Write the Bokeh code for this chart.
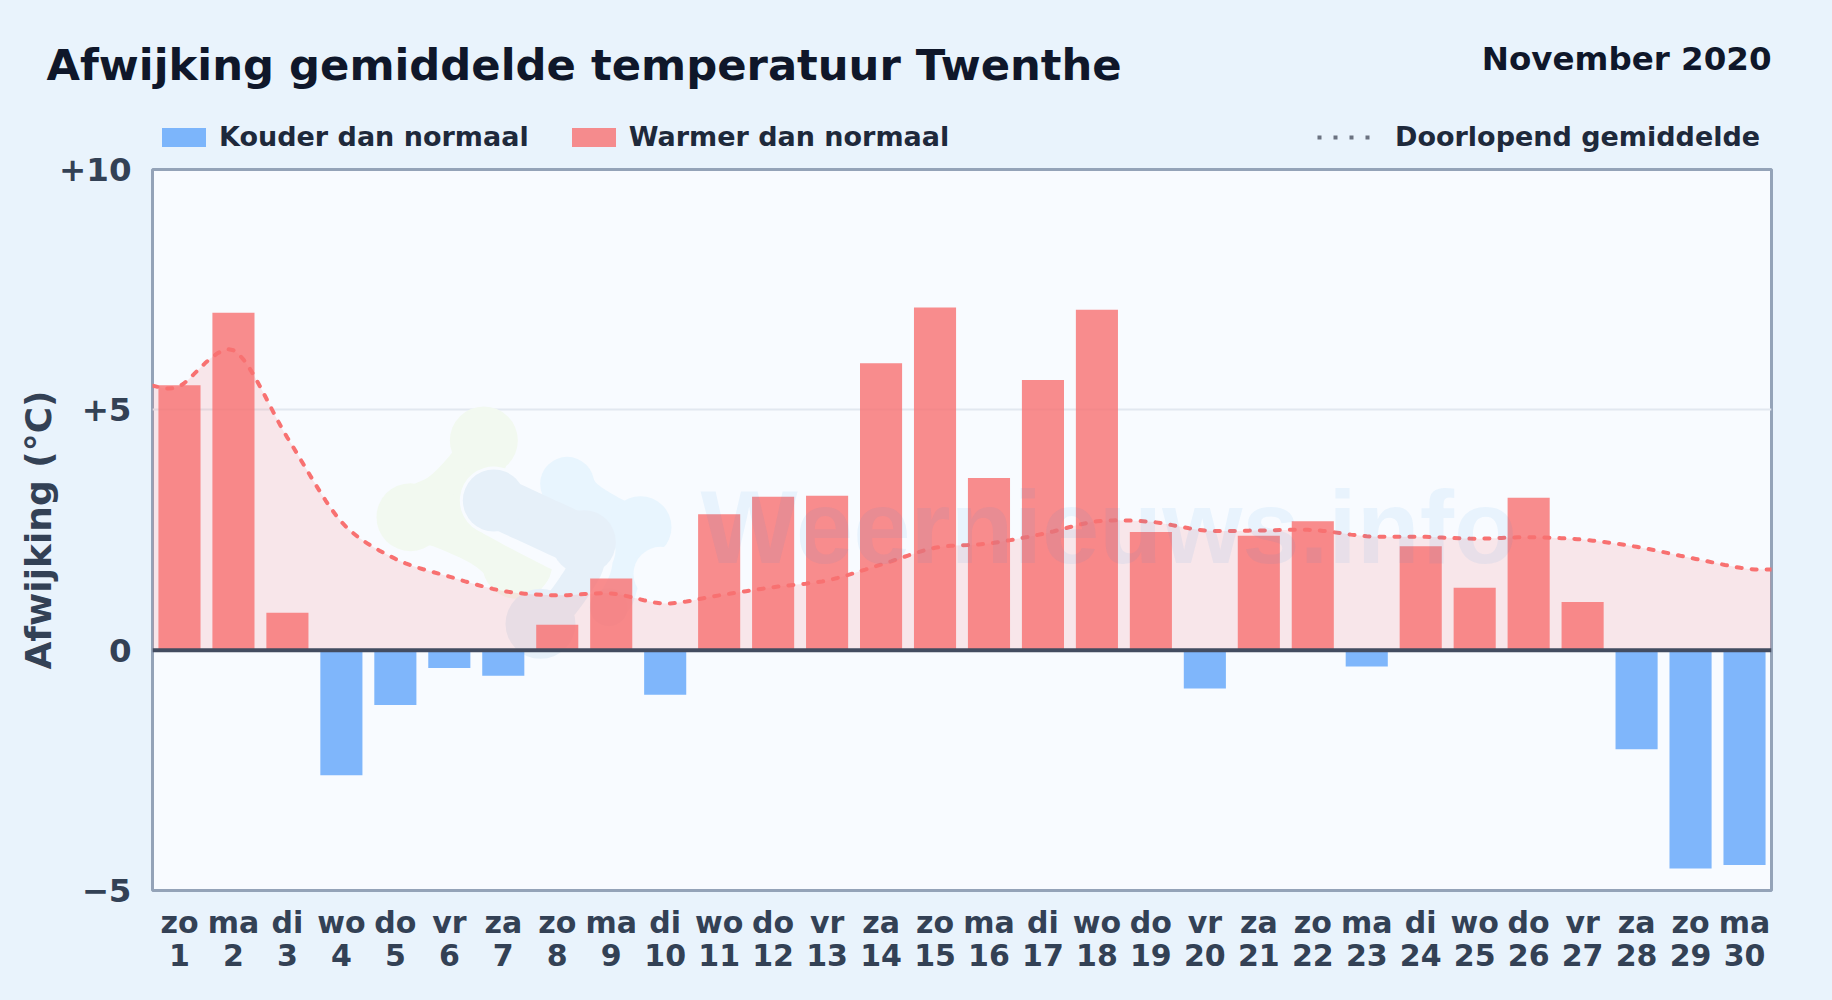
from bokeh.plotting import figure
from bokeh.layouts import column
from bokeh.models import (ColumnDataSource, FixedTicker, Label, Legend, LegendItem,
                          LinearAxis, Range1d, Span)
from bokeh.embed import file_html
from bokeh.resources import INLINE

# ---- data ----
weekdays = ["zo","ma","di","wo","do","vr","za","zo","ma","di","wo","do","vr","za","zo",
            "ma","di","wo","do","vr","za","zo","ma","di","wo","do","vr","za","zo","ma"]
days = list(range(1, 31))
anomaly = [5.51, 7.02, 0.78, -2.60, -1.14, -0.37, -0.53, 0.53, 1.49, -0.93,
           2.83, 3.19, 3.21, 5.97, 7.13, 3.58, 5.62, 7.08, 2.46, -0.80,
           2.38, 2.68, -0.34, 2.16, 1.30, 3.17, 1.00, -2.06, -4.54, -4.47]
running_mean = [5.49, 6.24, 4.42, 2.67, 1.90, 1.53, 1.23, 1.14, 1.18, 0.97,
                1.14, 1.31, 1.45, 1.78, 2.13, 2.22, 2.42, 2.68, 2.67, 2.49,
                2.49, 2.50, 2.37, 2.36, 2.32, 2.35, 2.30, 2.15, 1.92, 1.70]
mean_at_left_edge = 5.50
mean_at_right_edge = 1.68
y_ticks = [-5, 0, 5, 10]
y_tick_labels = ["\u22125", "0", "+5", "+10"]
title_text = "Afwijking gemiddelde temperatuur Twenthe"
period_text = "November 2020"
y_label = "Afwijking (\u00b0C)"
watermark_text = "Weernieuws.info"

FONT = "DejaVu Sans"
PAGE_BG = "#e9f3fc"
PLOT_BG = "#f8fbff"
RED = "#f87171"
BLUE = "#60a5fa"

PAGE_W = 1832
HEADER_H, MAIN_H, OVERLAP = 153, 857, 10

# ---- header strip: title, period, legends ----
h = figure(width=PAGE_W, height=HEADER_H, output_backend="svg", toolbar_location=None,
           x_range=Range1d(0, PAGE_W), y_range=Range1d(HEADER_H, 0),
           x_axis_location=None, y_axis_location=None, frame_align=False,
           min_border=0, background_fill_color=PAGE_BG, border_fill_color=PAGE_BG,
           outline_line_color=None)
h.grid.visible = False
h.add_layout(Label(x=46, y=64, text=title_text, text_font=FONT, text_font_size="43.3px",
                   text_font_style="bold", text_color="#0f172a", text_baseline="alphabetic"))
h.add_layout(Label(x=1771, y=58, text=period_text, text_font=FONT, text_font_size="32.5px",
                   text_font_style="bold", text_color="#0f172a", text_align="right",
                   text_baseline="alphabetic"))
# legend keys: their single sample lies outside the header's visible range
off_x, off_y = [-1000.0], [-1000.0]
key_src = ColumnDataSource(dict(x=off_x, top=off_y))
cold_key = h.vbar(x="x", top="top", bottom=0, width=1, source=key_src,
                  fill_color=BLUE, fill_alpha=0.8, line_color=None)
warm_key = h.vbar(x="x", top="top", bottom=0, width=1, source=key_src,
                  fill_color=RED, fill_alpha=0.8, line_color=None)
line_key = h.line(off_x * 2, off_y * 2, line_color="#6b7280", line_width=4, line_dash="4 12")
common = dict(orientation="horizontal", border_line_color=None, background_fill_alpha=0,
              margin=0, padding=0, label_text_font=FONT, label_text_font_size="27px",
              label_text_font_style="bold", label_text_color="#1e293b")
h.add_layout(Legend(items=[LegendItem(label="Kouder dan normaal", renderers=[cold_key]),
                           LegendItem(label="Warmer dan normaal", renderers=[warm_key])],
                    location=(156, 1), glyph_width=55, glyph_height=24,
                    label_standoff=8, spacing=37, **common), "center")
h.add_layout(Legend(items=[LegendItem(label="Doorlopend gemiddelde", renderers=[line_key])],
                    location=(1317, 1), glyph_width=56, glyph_height=24,
                    label_standoff=22, **common), "center")

# ---- main chart (its transparent top border overlaps the header's lower edge) ----
p = figure(width=PAGE_W, height=MAIN_H, output_backend="svg", toolbar_location=None,
           x_range=Range1d(0.5, 30.5), y_range=Range1d(-5, 10), frame_align=False,
           min_border_left=152, min_border_right=61, min_border_top=16 + OVERLAP,
           min_border_bottom=110, margin=(-OVERLAP, 0, 0, 0),
           background_fill_color=PLOT_BG, border_fill_color=None,
           outline_line_color="#94a3b8", outline_line_width=3)

p.xaxis.ticker = FixedTicker(ticks=days)
p.xaxis.major_label_overrides = {d: w for d, w in zip(days, weekdays)}
p.add_layout(LinearAxis(ticker=FixedTicker(ticks=days),
                        major_label_overrides={d: str(d) for d in days}), "below")
p.yaxis.ticker = FixedTicker(ticks=y_ticks)
p.yaxis.major_label_overrides = dict(zip(y_ticks, y_tick_labels))
for ax in list(p.xaxis) + list(p.yaxis):
    ax.axis_line_color = None
    ax.major_tick_line_color = None
    ax.minor_tick_line_color = None
    ax.major_label_text_font = FONT
    ax.major_label_text_font_style = "bold"
    ax.major_label_text_color = "#334155"
for ax in p.xaxis:
    ax.major_label_text_font_size = "30px"
    ax.major_label_orientation = "horizontal"
p.below[0].major_label_standoff = 8
p.below[1].major_label_standoff = -5
p.yaxis.major_label_text_font_size = "32.5px"
p.yaxis.major_label_standoff = 15
p.yaxis.axis_label = y_label
p.yaxis.axis_label_text_font = FONT
p.yaxis.axis_label_text_font_size = "36px"
p.yaxis.axis_label_text_font_style = "bold"
p.yaxis.axis_label_text_color = "#334155"
p.yaxis.axis_label_standoff = -3

p.xgrid.visible = False
p.ygrid.ticker = FixedTicker(ticks=[5])
p.ygrid.grid_line_color = "#e2e8f0"
p.ygrid.grid_line_width = 2

# faint watermark logo (page pixels converted to the chart's scale)
frame_l, frame_r, frame_t, frame_b = 152.0, 1771.0, 169.0, 890.0
def dx(px):
    return 0.5 + (px - frame_l) / (frame_r - frame_l) * 30
def dy(py):
    return 10 - (py - frame_t) / (frame_b - frame_t) * 15
def zx(a):
    return dx(360 + a / 3)
def zy(b):
    return dy(390 + b / 3)

def smooth(xs, ys, tension=0.3, steps=10):
    out_x, out_y = [], []
    n = len(xs)
    for i in range(n - 1):
        x0, y0 = xs[max(i - 1, 0)], ys[max(i - 1, 0)]
        x1, y1 = xs[i], ys[i]
        x2, y2 = xs[i + 1], ys[i + 1]
        x3, y3 = xs[min(i + 2, n - 1)], ys[min(i + 2, n - 1)]
        c1x, c1y = x1 + (x2 - x0) * tension / 2, y1 + (y2 - y0) * tension / 2
        c2x, c2y = x2 - (x3 - x1) * tension / 2, y2 - (y3 - y1) * tension / 2
        for k in range(steps):
            t = k / steps
            u = 1 - t
            out_x.append(u**3 * x1 + 3 * u * u * t * c1x + 3 * u * t * t * c2x + t**3 * x2)
            out_y.append(u**3 * y1 + 3 * u * u * t * c1y + 3 * u * t * t * c2y + t**3 * y2)
    out_x.append(xs[-1]); out_y.append(ys[-1])
    return out_x, out_y

def stroke(color, w, pts):
    xs, ys = smooth([a for a, b in pts], [b for a, b in pts], tension=0.8)
    p.line([zx(a) for a in xs], [zy(b) for b in ys], line_color=color, line_width=w,
           line_cap="round", line_join="round")
def lobe(color, a, b, d):
    p.scatter([zx(a)], [zy(b)], size=d, marker="circle", fill_color=color, line_color=None)

GREEN, MID, LIGHT = "#f2f9f0", "#e6f0f9", "#e8f5fe"
stroke(GREEN, 54, [(370, 150), (310, 270), (170, 370)])
stroke(GREEN, 56, [(150, 380), (300, 410), (470, 520)])
lobe(GREEN, 370, 150, 68); lobe(GREEN, 150, 380, 68); lobe(GREEN, 470, 520, 70)
stroke(PLOT_BG, 68, [(400, 330), (530, 400), (650, 460)])
stroke(LIGHT, 46, [(620, 280), (720, 370), (840, 410)])
stroke(LIGHT, 40, [(850, 410), (800, 510), (760, 620)])
lobe(LIGHT, 620, 280, 54); lobe(LIGHT, 840, 410, 62)
lobe(PLOT_BG, 900, 550, 54)
stroke(PLOT_BG, 50, [(690, 480), (640, 590), (540, 700)])
stroke(MID, 52, [(400, 330), (530, 390), (660, 450)])
stroke(MID, 34, [(690, 480), (640, 590), (540, 700)])
lobe(MID, 400, 330, 62); lobe(MID, 670, 455, 64); lobe(MID, 540, 700, 70); lobe(MID, 745, 650, 38)

p.add_layout(Label(x=dx(700), y=dy(527), text=watermark_text, text_font="Liberation Sans",
                   text_font_size="103px", text_font_style="bold", text_color="#1d8fe0",
                   text_alpha=0.07, text_baseline="alphabetic", level="glyph"))

# smoothed running mean, computed from the values above
cx, cy = smooth([0.5] + days + [30.5], [mean_at_left_edge] + running_mean + [mean_at_right_edge])
p.varea(x=cx, y1=[0] * len(cx), y2=cy, fill_color=RED, fill_alpha=0.15)

cold_src = ColumnDataSource(dict(x=[d for d, v in zip(days, anomaly) if v < 0],
                                 top=[v for v in anomaly if v < 0]))
warm_src = ColumnDataSource(dict(x=[d for d, v in zip(days, anomaly) if v >= 0],
                                 top=[v for v in anomaly if v >= 0]))
p.vbar(x="x", top="top", bottom=0, width=0.78, source=cold_src,
       fill_color=BLUE, fill_alpha=0.8, line_color=None)
p.vbar(x="x", top="top", bottom=0, width=0.78, source=warm_src,
       fill_color=RED, fill_alpha=0.8, line_color=None)

p.line(cx, cy, line_color=RED, line_width=4, line_dash="5 10", line_cap="round")
p.add_layout(Span(location=0, dimension="width", line_color="#434c60", line_width=4))

html = file_html(column(h, p, spacing=0), INLINE)
html = html.replace("<head>", "<head><style>html,body{background:%s}</style>" % PAGE_BG, 1)
open("out.html", "w").write(html)
